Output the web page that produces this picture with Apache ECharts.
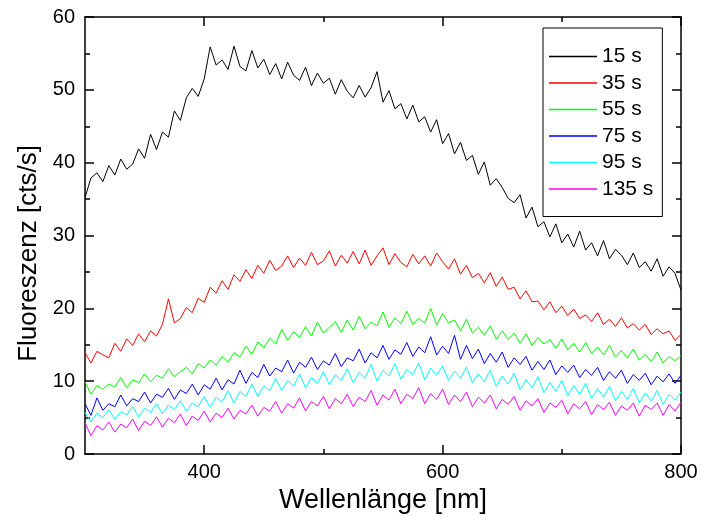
<!DOCTYPE html>
<html>
<head>
<meta charset="utf-8">
<script src="https://cdn.jsdelivr.net/npm/echarts@6/dist/echarts.min.js"></script>
<style>html,body{margin:0;padding:0;background:#fff}#c{width:702px;height:517px}</style>
</head>
<body>
<div id="c"></div>
<script>
// wavelength grid 300..800 nm, step 5 nm
const wavelengths = Array.from({length: 101}, (_, i) => 300 + 5 * i);
const seriesNames = ['15 s', '35 s', '55 s', '75 s', '95 s', '135 s'];
const xLabelValues = [400, 600, 800];
const xMinorTickValues = [500, 700];

const s15 = [35.2,37.9,38.6,37.4,39.6,38.3,40.5,39.1,39.8,41.9,40.6,43.9,41.8,44.2,43.5,47.1,45.8,48.9,50.2,49.1,
  51.5,55.9,53.4,54.1,52.8,56.0,53.2,52.6,55.4,53.0,54.2,52.1,53.6,51.5,53.8,52.0,51.3,53.1,50.6,52.3,
  50.9,51.6,49.4,51.4,49.8,48.9,50.6,49.0,50.3,52.5,48.3,49.9,47.4,48.1,46.0,47.9,45.6,46.3,44.2,45.9,
  42.6,44.0,41.2,42.8,40.3,41.0,38.4,40.1,36.9,37.8,36.6,35.1,34.5,35.6,32.4,33.9,31.2,31.9,29.8,31.6,
  29.0,30.2,28.4,30.6,28.0,29.0,27.2,29.3,26.8,28.1,27.3,26.0,27.6,25.6,26.4,25.1,26.8,24.4,25.7,24.8,22.5];
const s35 = [13.9,12.5,14.1,13.6,13.2,15.2,14.1,15.8,14.9,16.5,15.4,16.9,16.2,17.8,21.3,18.0,18.6,20.1,19.4,21.4,
  20.8,22.9,22.1,23.8,22.6,24.6,23.7,25.3,24.1,25.9,24.8,26.6,25.2,25.8,27.2,25.6,26.9,25.9,27.7,26.0,
  26.5,27.9,25.8,27.3,26.2,27.8,26.1,28.0,25.9,27.2,28.3,26.0,27.5,26.3,25.7,27.4,26.1,27.2,25.8,27.6,
  26.4,25.4,26.8,24.7,25.9,24.2,24.8,23.5,24.9,23.0,24.3,22.6,22.9,21.3,22.4,20.9,21.0,19.8,20.9,19.4,
  20.3,19.0,19.9,18.6,19.1,18.2,19.4,17.8,18.5,17.5,18.7,17.3,17.9,17.0,17.8,16.4,17.2,16.5,16.9,15.6,16.4];
const s55 = [9.9,8.2,9.4,8.9,9.6,9.2,10.5,9.1,10.2,9.8,11.0,9.9,10.8,10.4,11.7,10.6,11.3,11.9,11.0,12.4,
  11.8,12.9,12.2,13.4,12.6,13.9,13.3,14.8,13.7,15.4,14.6,15.9,15.1,17.1,15.6,16.8,16.0,17.5,16.2,18.1,
  16.6,17.4,18.2,16.7,18.4,17.0,18.9,17.2,18.1,17.6,19.5,17.4,18.7,17.9,19.6,17.8,18.6,18.0,20.0,17.7,
  19.3,18.0,18.4,16.9,18.5,16.6,17.4,16.3,17.6,15.8,16.9,15.7,16.6,15.2,16.5,14.9,16.0,15.1,15.7,14.5,
  15.8,14.3,15.2,14.0,15.3,13.8,14.7,13.6,14.9,13.3,14.2,13.2,14.4,12.9,13.7,12.7,14.0,12.5,13.4,12.8,13.5];
const s75 = [6.9,5.3,7.7,6.0,6.9,6.5,8.1,6.6,7.6,7.2,8.5,7.0,8.2,7.8,9.0,7.5,8.8,8.3,9.6,8.1,
  9.5,8.9,10.4,8.8,10.2,9.6,11.5,9.7,11.2,10.5,12.3,10.7,11.8,11.3,12.9,11.1,12.6,11.9,13.3,11.6,
  12.8,12.2,13.8,12.0,13.2,12.8,14.4,12.5,13.9,13.2,14.9,13.0,14.3,13.7,15.3,13.4,14.7,13.9,16.1,13.6,
  14.8,13.8,16.3,13.0,14.9,13.1,14.4,12.4,13.8,12.6,14.0,11.9,13.2,12.3,13.4,11.5,12.7,11.6,12.9,10.9,
  12.1,11.2,12.2,10.5,11.6,10.8,11.9,10.1,11.3,10.4,11.5,9.7,10.9,10.1,11.1,9.5,10.7,9.9,11.0,9.7,10.8];
const s95 = [5.7,4.4,5.6,5.0,6.1,4.8,5.8,5.4,6.5,5.1,6.3,5.7,6.9,5.5,6.7,6.1,7.3,5.9,7.0,6.5,
  7.9,6.4,7.8,7.1,8.7,7.0,8.6,7.9,9.6,7.9,9.4,8.7,10.4,8.7,10.1,9.3,11.0,9.1,10.5,9.7,
  11.3,9.5,10.9,10.1,11.7,9.8,11.2,10.4,12.3,10.0,11.5,10.7,12.4,10.3,11.6,10.9,12.5,10.2,11.8,10.8,
  12.1,10.1,11.4,10.4,11.9,9.8,11.0,9.9,11.5,9.3,10.7,9.6,11.1,8.8,10.2,9.1,10.6,8.4,9.8,8.6,
  10.1,8.0,9.4,8.2,9.7,7.6,9.0,7.8,9.3,7.3,8.6,7.5,9.0,7.0,8.4,7.3,8.7,6.8,8.2,7.4,8.5];
const s135 = [4.3,2.5,3.9,3.3,4.4,3.0,4.1,3.6,4.8,3.2,4.5,3.9,5.1,3.7,4.9,4.3,5.5,3.9,5.2,4.6,
  5.9,4.4,5.6,5.0,6.3,4.8,6.0,5.5,6.7,5.2,6.4,5.9,7.2,5.6,6.9,6.3,7.7,5.9,7.2,6.6,
  7.9,6.2,7.6,6.9,8.2,6.5,7.8,7.2,8.7,6.7,8.1,7.4,8.9,6.9,8.2,7.6,9.1,6.9,8.3,7.5,
  8.9,6.8,8.1,7.2,8.5,6.5,7.8,7.0,8.1,6.2,7.5,6.8,7.9,6.0,7.3,6.6,7.6,5.7,7.0,6.4,
  7.4,5.5,6.9,6.2,7.2,5.4,6.8,6.1,7.1,5.3,6.6,6.0,7.0,5.2,6.7,6.1,7.0,5.3,6.8,5.9,7.1];

const seriesValues = [s15, s35, s55, s75, s95, s135];
const seriesColors = ['#000000', '#ff0000', '#00ff00', '#0000ff', '#00ffff', '#ff00ff'];

const FONT = 'Liberation Sans, Arial, sans-serif';
const axisLineStyle = { color: '#000', width: 1.5 };
const tickStyle = { color: '#000', width: 1.5 };

const chart = echarts.init(document.getElementById('c'));
chart.setOption({
  animation: false,
  backgroundColor: '#fff',
  grid: { left: 85, right: 21, top: 17, bottom: 63, containLabel: false, outerBoundsMode: 'none' },
  xAxis: [
    {
      type: 'value', min: 300, max: 800, interval: 100, position: 'bottom',
      name: 'Wellenlänge [nm]', nameLocation: 'middle', nameGap: 27,
      nameTextStyle: { fontFamily: FONT, fontSize: 27, color: '#000' },
      axisLine: { show: true, lineStyle: axisLineStyle },
      axisTick: { show: true, inside: true, length: 9, customValues: xLabelValues, lineStyle: tickStyle },
      axisLabel: { customValues: xLabelValues, fontFamily: FONT, fontSize: 20, color: '#000', margin: 8 },
      splitLine: { show: false }
    },
    {
      type: 'value', min: 300, max: 800, interval: 100, position: 'bottom',
      axisLine: { show: false },
      axisTick: { show: true, inside: true, length: 5, customValues: xMinorTickValues, lineStyle: tickStyle },
      axisLabel: { show: false }, splitLine: { show: false }
    },
    {
      type: 'value', min: 300, max: 800, interval: 100, position: 'top',
      axisLine: { show: true, lineStyle: axisLineStyle },
      axisTick: { show: true, inside: true, length: 9, customValues: xLabelValues, lineStyle: tickStyle },
      axisLabel: { show: false }, splitLine: { show: false }
    },
    {
      type: 'value', min: 300, max: 800, interval: 100, position: 'top',
      axisLine: { show: false },
      axisTick: { show: true, inside: true, length: 5, customValues: xMinorTickValues, lineStyle: tickStyle },
      axisLabel: { show: false }, splitLine: { show: false }
    }
  ],
  yAxis: [
    {
      type: 'value', min: 0, max: 60, interval: 10, position: 'left',
      name: 'Fluoreszenz [cts/s]', nameLocation: 'middle', nameGap: 41,
      nameTextStyle: { fontFamily: FONT, fontSize: 26, color: '#000', padding: [0, 36, 0, 0] },
      axisLine: { show: true, lineStyle: axisLineStyle },
      axisTick: { show: true, inside: true, length: 9, lineStyle: tickStyle },
      minorTick: { show: true, splitNumber: 2, length: 5, lineStyle: tickStyle },
      axisLabel: { fontFamily: FONT, fontSize: 20, color: '#000', margin: 10 },
      splitLine: { show: false }
    },
    {
      type: 'value', min: 0, max: 60, interval: 10, position: 'right',
      axisLine: { show: true, lineStyle: axisLineStyle },
      axisTick: { show: true, inside: true, length: 9, lineStyle: tickStyle },
      minorTick: { show: true, splitNumber: 2, length: 5, lineStyle: tickStyle },
      axisLabel: { show: false },
      splitLine: { show: false }
    }
  ],
  legend: {
    orient: 'vertical', left: 543, top: 28,
    padding: [18, 9, 17, 6],
    icon: 'rect',
    itemWidth: 48, itemHeight: 1.6, itemGap: 5.5,
    borderColor: '#000', borderWidth: 1,
    textStyle: { fontFamily: FONT, fontSize: 21, color: '#000', lineHeight: 21 },
    data: seriesNames
  },
  series: seriesNames.map((name, k) => ({
    name: name,
    type: 'line',
    xAxisIndex: 0, yAxisIndex: 0,
    symbol: 'none',
    lineStyle: { color: seriesColors[k], width: 1 },
    itemStyle: { color: seriesColors[k] },
    data: wavelengths.map((w, i) => [w, seriesValues[k][i]])
  }))
});
</script>
</body>
</html>
